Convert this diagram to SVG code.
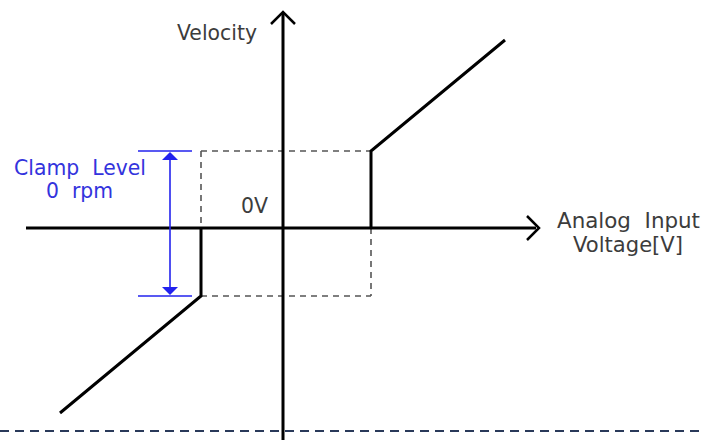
<svg xmlns="http://www.w3.org/2000/svg" width="702" height="440" viewBox="0 0 702 440">
<style>
.ax{stroke:#000;stroke-width:3;fill:none}
.cv{stroke:#000;stroke-width:3;fill:none;stroke-linejoin:miter}
.ds{stroke:#555;stroke-width:1.6;fill:none;stroke-dasharray:6 5}
.bl{stroke:#2222ee;stroke-width:1.6;fill:none}
.t{font-family:"DejaVu Sans","Liberation Sans",Arial,sans-serif;font-size:21px;fill:#3c3c3c;white-space:pre}
.tb{font-family:"DejaVu Sans","Liberation Sans",Arial,sans-serif;font-size:21px;fill:#3333dd;white-space:pre}
</style>
<rect width="702" height="440" fill="#fff"/>
<g id="connectors">
<line class="ds" x1="201" y1="151" x2="371" y2="151"/>
<line class="ds" x1="201" y1="296" x2="371" y2="296"/>
<line class="ds" x1="201" y1="151" x2="201" y2="228"/>
<line class="ds" x1="371" y1="228" x2="371" y2="296"/>
<line x1="0" y1="431" x2="702" y2="431" stroke="#2a3a5a" stroke-width="2" stroke-dasharray="9 6"/>
<line class="ax" x1="26" y1="228" x2="536" y2="228"/>
<path d="M527,216 L539,228 L527,240" fill="none" stroke="#000" stroke-width="2.5"/>
<line class="ax" x1="283" y1="440" x2="283" y2="14"/>
<path d="M271,24 L283,12 L295,24" fill="none" stroke="#000" stroke-width="2.5"/>
<polyline class="cv" points="371,228 371,151 505,40"/>
<polyline class="cv" points="201,228 201,296 60,413"/>
<line class="bl" x1="138" y1="151" x2="192" y2="151"/>
<line class="bl" x1="138" y1="296" x2="192" y2="296"/>
<line class="bl" x1="170" y1="160" x2="170" y2="288"/>
<path d="M162,160 L170,152 L178,160 Z" fill="#2222ee"/>
<path d="M162,287 L170,295 L178,287 Z" fill="#2222ee"/>
</g>
<g id="velocity"><text class="t" x="177" y="40" textLength="80" lengthAdjust="spacingAndGlyphs">Velocity</text></g>
<g id="zero"><text class="t" x="241" y="213" textLength="27" lengthAdjust="spacingAndGlyphs">0V</text></g>
<g id="xlabel"><text class="t" x="557" y="228" textLength="143" lengthAdjust="spacingAndGlyphs">Analog  Input</text><text class="t" x="573" y="252" textLength="110" lengthAdjust="spacingAndGlyphs">Voltage[V]</text></g>
<g id="clamp"><text class="tb" x="14" y="175" textLength="132" lengthAdjust="spacingAndGlyphs">Clamp  Level</text><text class="tb" x="46" y="198" textLength="67" lengthAdjust="spacingAndGlyphs">0  rpm</text></g>
</svg>
